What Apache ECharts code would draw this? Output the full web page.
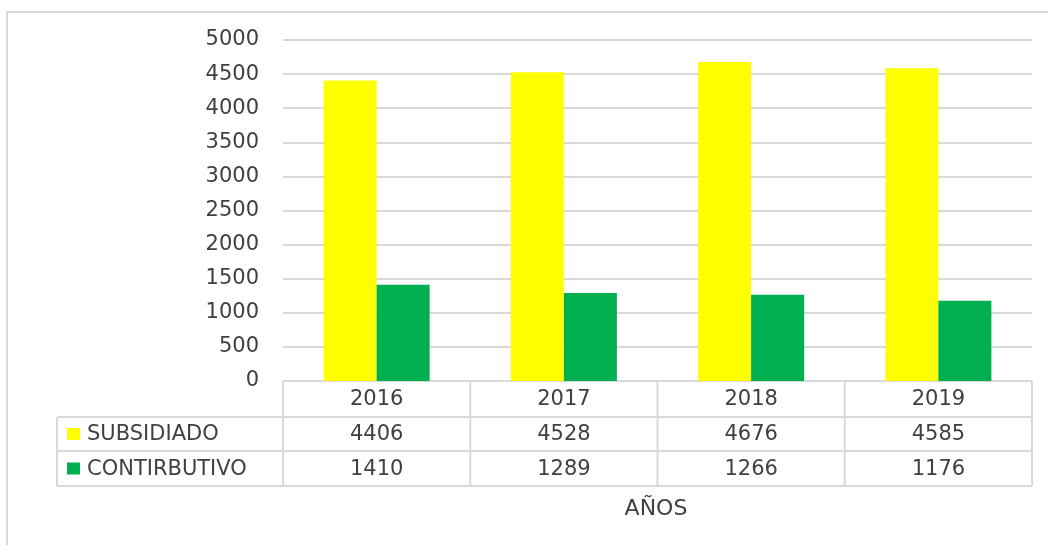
<!DOCTYPE html>
<html>
<head>
<meta charset="utf-8">
<script src="https://cdn.jsdelivr.net/npm/echarts@6/dist/echarts.min.js"></script>
<style>
  html, body { margin: 0; padding: 0; background: #fff; }
  #chart { width: 1048px; height: 545px; }
</style>
</head>
<body>
<div id="chart"></div>
<script>
var years = ['2016', '2017', '2018', '2019']
var subsidiado = [4406, 4528, 4676, 4585]
var contributivo = [1410, 1289, 1266, 1176]
var seriesNames = ['SUBSIDIADO', 'CONTIRBUTIVO']
var seriesColors = ['#FFFF00', '#00B050']

var FONT = '"DejaVu Sans"'
var TXT = '#404040'
var LINE = '#d9d9d9'

var myChart = echarts.init(document.getElementById('chart'))

myChart.setOption({
    animation: false,
    grid: { left: 283, right: 16, top: 40, bottom: 164 },
    xAxis: {
        type: 'category',
        data: years,
        axisLine: { show: false },
        axisTick: { show: false },
        axisLabel: { show: false }
    },
    yAxis: {
        type: 'value',
        min: 0,
        max: 5000,
        interval: 500,
        axisLabel: { color: TXT, fontFamily: 'DejaVu Sans', fontSize: 21, margin: 24,
            formatter: function (v) { return String(v) } },
        splitLine: { lineStyle: { color: LINE, width: 2 } }
    },
    series: [
        { name: seriesNames[0], type: 'bar', data: subsidiado, barWidth: 53, barGap: '0%',
          itemStyle: { color: seriesColors[0] } },
        { name: seriesNames[1], type: 'bar', data: contributivo, barWidth: 53, barGap: '0%',
          itemStyle: { color: seriesColors[1] } }
    ]
})

// data table under the plot, built from the arrays above
function buildTable(){
    var g = []
    var lineStyle = { stroke: LINE, lineWidth: 2 }
    var x0 = 57, x1 = 283, x2 = 1032
    var rows = [381, 417, 451, 486]
    var half = (myChart.convertToPixel({ xAxisIndex: 0 }, years[1]) - myChart.convertToPixel({ xAxisIndex: 0 }, years[0])) / 2

    // horizontal lines
    g.push({ type: 'line', shape: { x1: x1, y1: rows[0], x2: x2, y2: rows[0] }, style: lineStyle })
    for (var r = 1; r < rows.length; r++) {
        g.push({ type: 'line', shape: { x1: x0, y1: rows[r], x2: x2, y2: rows[r] }, style: lineStyle })
    }
    // vertical lines
    g.push({ type: 'line', shape: { x1: x0, y1: rows[1], x2: x0, y2: rows[3] }, style: lineStyle })
    years.forEach(function (y, i) {
        var cx = myChart.convertToPixel({ xAxisIndex: 0 }, y)
        g.push({ type: 'line', shape: { x1: cx - half, y1: rows[0], x2: cx - half, y2: rows[3] }, style: lineStyle })
        if (i === years.length - 1) {
            g.push({ type: 'line', shape: { x1: cx + half, y1: rows[0], x2: cx + half, y2: rows[3] }, style: lineStyle })
        }
    })

    var rowData = [years, subsidiado, contributivo]
    rowData.forEach(function (vals, r) {
        var cy = (rows[r] + rows[r + 1]) / 2 + 1
        vals.forEach(function (v, i) {
            var cx = myChart.convertToPixel({ xAxisIndex: 0 }, years[i])
            g.push({ type: 'text', x: cx, y: cy,
                style: { text: String(v), fill: TXT, font: '21px ' + FONT, align: 'center', verticalAlign: 'middle' } })
        })
    })

    // legend keys in the row headers
    seriesNames.forEach(function (n, i) {
        var cy = (rows[i + 1] + rows[i + 2]) / 2
        g.push({ type: 'rect', shape: { x: 67, y: cy - 6, width: 13, height: 12 }, style: { fill: seriesColors[i] } })
        g.push({ type: 'text', x: 87, y: cy + 1,
            style: { text: n, fill: TXT, font: '21px ' + FONT, align: 'left', verticalAlign: 'middle' } })
    })

    // axis title
    g.push({ type: 'text', x: 656, y: 509,
        style: { text: 'AÑOS', fill: TXT, font: '22px ' + FONT, align: 'center', verticalAlign: 'middle' } })

    // chart outer border
    g.push({ type: 'rect', shape: { x: 7, y: 12, width: 1060, height: 560 },
        style: { fill: null, stroke: '#d9d9d9', lineWidth: 2 } })

    myChart.setOption({ graphic: g })
}
buildTable()
</script>
</body>
</html>
